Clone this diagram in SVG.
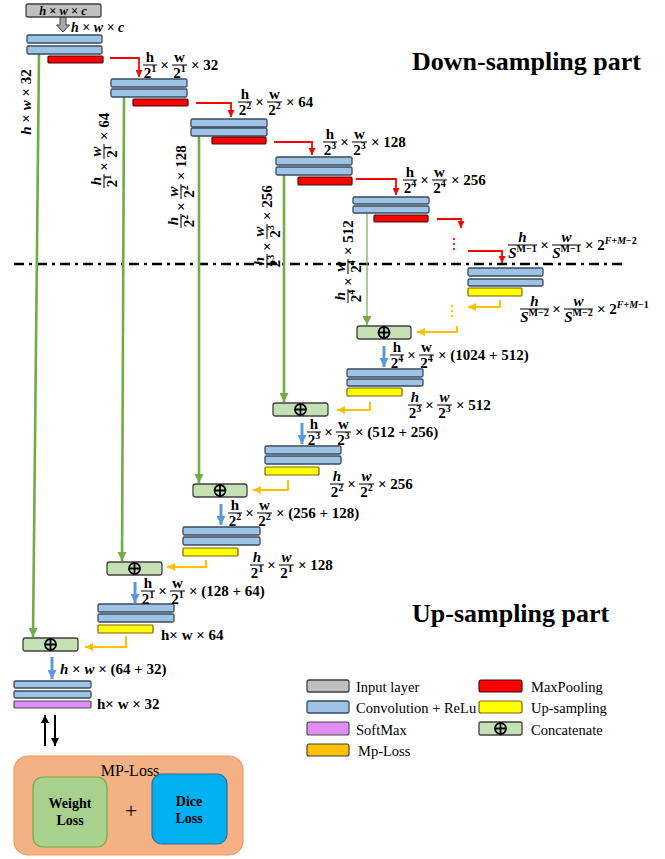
<svg xmlns="http://www.w3.org/2000/svg" width="665" height="859" viewBox="0 0 665 859">
<defs>
<style>
.cv{fill:#9DC3E6;stroke:#3B4A5C;stroke-width:1.3}
.mp{fill:#FF0000;stroke:#3a1010;stroke-width:1.2}
.up{fill:#FFFF00;stroke:#7F5F10;stroke-width:1.2}
.sm{fill:#E08EF5;stroke:#4a4a4a;stroke-width:1.2}
.cc{fill:#C5E0B4;stroke:#404040;stroke-width:1.3}
.ip{fill:#BFBFBF;stroke:#404040;stroke-width:1.3}
.ml{fill:#FFC000;stroke:#404040;stroke-width:1.2}
.g{fill:none;stroke:#70AD47;stroke-width:2.6}
.r{fill:none;stroke:#FF0000;stroke-width:1.8}
.o{fill:none;stroke:#FFC000;stroke-width:2}
.b{fill:none;stroke:#5B9BD5;stroke-width:3}
.k{fill:none;stroke:#000;stroke-width:2}
.t{font-family:"Liberation Serif","Times New Roman",serif;font-weight:bold;font-size:15px;fill:#000}
.c{text-anchor:middle}
.i{font-style:italic}
.s{font-size:10px}
.fl{stroke:#000;stroke-width:1}
.lg{font-family:"Liberation Serif","Times New Roman",serif;font-size:14.5px;fill:#000}
.ti{font-family:"Liberation Serif","Times New Roman",serif;font-weight:bold;font-size:26px;fill:#000}
</style>
<marker id="ar" viewBox="0 0 10 10" refX="10" refY="5" markerUnits="userSpaceOnUse" markerWidth="7" markerHeight="7" orient="auto"><path d="M0,0L10,5L0,10z" fill="#FF0000"/></marker>
<marker id="ao" viewBox="0 0 10 10" refX="10" refY="5" markerUnits="userSpaceOnUse" markerWidth="8" markerHeight="8" orient="auto"><path d="M0,0L10,5L0,10z" fill="#FFC000"/></marker>
<marker id="ag" viewBox="0 0 10 10" refX="10" refY="5" markerUnits="userSpaceOnUse" markerWidth="9" markerHeight="9" orient="auto"><path d="M0,0L10,5L0,10z" fill="#70AD47"/></marker>
<marker id="ab" viewBox="0 0 10 10" refX="10" refY="5" markerUnits="userSpaceOnUse" markerWidth="9" markerHeight="9" orient="auto"><path d="M0,0L10,5L0,10z" fill="#5B9BD5"/></marker>
<marker id="ak" viewBox="0 0 10 10" refX="10" refY="5" markerUnits="userSpaceOnUse" markerWidth="8" markerHeight="8" orient="auto"><path d="M0,0L10,5L0,10z" fill="#000"/></marker>
<g id="oplus"><circle r="5.5" fill="none" stroke="#000" stroke-width="1.8"/><path d="M-5.5,0H5.5M0,-5.5V5.5" stroke="#000" stroke-width="1.8"/></g>
</defs>
<rect width="665" height="859" fill="#fff"/>

<text class="ti" x="412" y="70">Down-sampling part</text>
<text class="ti" x="412" y="622">Up-sampling part</text>

<g id="connectors">
<path d="M14,264H627" stroke="#000" stroke-width="2.5" stroke-dasharray="10,5,3,5" fill="none"/>
<path class="g" d="M39,54L33,637" marker-end="url(#ag)"/>
<path class="g" d="M124,97L122,561" marker-end="url(#ag)"/>
<path class="g" d="M199,135L199,483" marker-end="url(#ag)"/>
<path class="g" d="M284,175L284,402" marker-end="url(#ag)"/>
<path class="g" d="M367,213L367,325" style="stroke-width:1.2" marker-end="url(#ag)"/>
<path class="r" d="M110,58H139V77" marker-end="url(#ar)"/>
<path class="r" d="M196,103H231V117" marker-end="url(#ar)"/>
<path class="r" d="M274,142H312V155" marker-end="url(#ar)"/>
<path class="r" d="M356,179H396V195" marker-end="url(#ar)"/>
<path class="r" d="M437,219H461V228" marker-end="url(#ar)"/>
<path class="r" d="M454,238V252" stroke-dasharray="2,3"/>
<path class="r" d="M468,251H502V263" marker-end="url(#ar)"/>
<path class="o" d="M500,300V307H468" marker-end="url(#ao)"/>
<path class="o" d="M452,305V318" stroke-dasharray="2,3"/>
<path class="o" d="M457,326V332H417" marker-end="url(#ao)"/>
<path class="o" d="M370,402V410H337" marker-end="url(#ao)"/>
<path class="o" d="M288,480V490H253" marker-end="url(#ao)"/>
<path class="o" d="M206,560V567H167" marker-end="url(#ao)"/>
<path class="o" d="M126,636V647H85" marker-end="url(#ao)"/>
<path class="b" d="M384,346V367" marker-end="url(#ab)"/>
<path class="b" d="M302,423V444" marker-end="url(#ab)"/>
<path class="b" d="M221,504V525" marker-end="url(#ab)"/>
<path class="b" d="M135,582V603" marker-end="url(#ab)"/>
<path class="b" d="M52,657V679" marker-end="url(#ab)"/>
<path class="k" d="M45,746V715" marker-end="url(#ak)"/>
<path class="k" d="M55,715V746" marker-end="url(#ak)"/>
<polygon points="60,17 66,17 66,25 69.5,25 63,32 56.5,25 60,25" fill="#A6A6A6" stroke="#404040" stroke-width="1"/>
</g>

<g id="input">
<rect class="ip" x="26" y="4" width="75" height="13" rx="2"/>
<text class="t c" x="63" y="15" style="font-size:12.5px"><tspan class="i">h</tspan> × <tspan class="i">w</tspan> × <tspan class="i">c</tspan></text>
<text class="t" x="71" y="32" style="font-size:14px"><tspan class="i">h</tspan> × <tspan class="i">w</tspan> × <tspan class="i">c</tspan></text>
</g>

<g id="down1"><rect class="cv" x="27" y="35" width="75" height="8" rx="1.5"/><rect class="cv" x="27" y="46" width="75" height="8" rx="1.5"/><rect class="mp" x="48" y="56" width="55" height="7" rx="1"/></g>
<g id="down2"><rect class="cv" x="111" y="79" width="76" height="8" rx="1.5"/><rect class="cv" x="111" y="89" width="76" height="8" rx="1.5"/><rect class="mp" x="133" y="99" width="55" height="7" rx="1"/></g>
<g id="down3"><rect class="cv" x="191" y="119" width="76" height="8" rx="1.5"/><rect class="cv" x="191" y="128" width="76" height="8" rx="1.5"/><rect class="mp" x="212" y="137" width="54" height="7" rx="1"/></g>
<g id="down4"><rect class="cv" x="276" y="157" width="76" height="8" rx="1.5"/><rect class="cv" x="276" y="167" width="76" height="8" rx="1.5"/><rect class="mp" x="298" y="177" width="54" height="8" rx="1"/></g>
<g id="down5"><rect class="cv" x="353" y="197" width="76" height="7" rx="1.5"/><rect class="cv" x="353" y="206" width="76" height="7" rx="1.5"/><rect class="mp" x="374" y="215" width="54" height="7" rx="1"/></g>
<g id="bottom"><rect class="cv" x="468" y="268" width="75" height="8" rx="1.5"/><rect class="cv" x="468" y="279" width="75" height="7" rx="1.5"/><rect class="up" x="468" y="288" width="54" height="8" rx="1"/></g>

<g id="concat1"><rect class="cc" x="357" y="326" width="54" height="13" rx="2.5"/><use href="#oplus" transform="translate(384,332.5)"/></g>
<g id="up1"><rect class="cv" x="347" y="369" width="76" height="8" rx="1.5"/><rect class="cv" x="347" y="379" width="76" height="7" rx="1.5"/><rect class="up" x="347" y="388" width="55" height="8" rx="1"/></g>
<g id="concat2"><rect class="cc" x="273" y="403" width="55" height="13" rx="2.5"/><use href="#oplus" transform="translate(300.5,409.5)"/></g>
<g id="up2"><rect class="cv" x="265" y="446" width="76" height="8" rx="1.5"/><rect class="cv" x="265" y="456" width="76" height="8" rx="1.5"/><rect class="up" x="265" y="467" width="54" height="8" rx="1"/></g>
<g id="concat3"><rect class="cc" x="193" y="484" width="54" height="13" rx="2.5"/><use href="#oplus" transform="translate(220,490.5)"/></g>
<g id="up3"><rect class="cv" x="183" y="527" width="77" height="8" rx="1.5"/><rect class="cv" x="183" y="537" width="77" height="8" rx="1.5"/><rect class="up" x="183" y="548" width="55" height="8" rx="1"/></g>
<g id="concat4"><rect class="cc" x="107" y="562" width="55" height="13" rx="2.5"/><use href="#oplus" transform="translate(134.5,568.5)"/></g>
<g id="up4"><rect class="cv" x="98" y="604" width="76" height="8" rx="1.5"/><rect class="cv" x="98" y="614" width="76" height="8" rx="1.5"/><rect class="up" x="98" y="625" width="55" height="8" rx="1"/></g>
<g id="concat5"><rect class="cc" x="23" y="638" width="55" height="13" rx="2.5"/><use href="#oplus" transform="translate(50.5,644.5)"/></g>
<g id="out"><rect class="cv" x="14" y="681" width="77" height="7" rx="1.5"/><rect class="cv" x="14" y="691" width="77" height="7" rx="1.5"/><rect class="sm" x="14" y="701" width="77" height="7" rx="1"/></g>

<!-- down labels -->
<g id="lbl-d1" transform="translate(143,65)">
<text class="t c" x="7" y="-3.5">h</text><line class="fl" x1="0" y1="0" x2="14" y2="0"/><text class="t c" x="7" y="12.5">2<tspan class="s" dy="-5.5">1</tspan></text>
<text class="t c" x="21.5" y="5">×</text>
<text class="t c" x="36.5" y="-3.5">w</text><line class="fl" x1="29" y1="0" x2="44" y2="0"/><text class="t c" x="36.5" y="12.5">2<tspan class="s" dy="-5.5">1</tspan></text>
<text class="t" x="48" y="5">× 32</text></g>
<g id="lbl-d2" transform="translate(238,102)">
<text class="t c" x="7" y="-3.5">h</text><line class="fl" x1="0" y1="0" x2="14" y2="0"/><text class="t c" x="7" y="12.5">2<tspan class="s" dy="-5.5">2</tspan></text>
<text class="t c" x="21.5" y="5">×</text>
<text class="t c" x="36.5" y="-3.5">w</text><line class="fl" x1="29" y1="0" x2="44" y2="0"/><text class="t c" x="36.5" y="12.5">2<tspan class="s" dy="-5.5">2</tspan></text>
<text class="t" x="48" y="5">× 64</text></g>
<g id="lbl-d3" transform="translate(323,142)">
<text class="t c" x="7" y="-3.5">h</text><line class="fl" x1="0" y1="0" x2="14" y2="0"/><text class="t c" x="7" y="12.5">2<tspan class="s" dy="-5.5">3</tspan></text>
<text class="t c" x="21.5" y="5">×</text>
<text class="t c" x="36.5" y="-3.5">w</text><line class="fl" x1="29" y1="0" x2="44" y2="0"/><text class="t c" x="36.5" y="12.5">2<tspan class="s" dy="-5.5">3</tspan></text>
<text class="t" x="48" y="5">× 128</text></g>
<g id="lbl-d4" transform="translate(403,180)">
<text class="t c" x="7" y="-3.5">h</text><line class="fl" x1="0" y1="0" x2="14" y2="0"/><text class="t c" x="7" y="12.5">2<tspan class="s" dy="-5.5">4</tspan></text>
<text class="t c" x="21.5" y="5">×</text>
<text class="t c" x="36.5" y="-3.5">w</text><line class="fl" x1="29" y1="0" x2="44" y2="0"/><text class="t c" x="36.5" y="12.5">2<tspan class="s" dy="-5.5">4</tspan></text>
<text class="t" x="48" y="5">× 256</text></g>
<g id="lbl-sm1" transform="translate(508,245)">
<text class="t c i" x="14.5" y="-3.5">h</text><line class="fl" x1="0" y1="0" x2="29" y2="0"/><text class="t c" x="14.5" y="12.5"><tspan class="i">S</tspan><tspan class="s" dy="-5.5">M−1</tspan></text>
<text class="t c" x="36.5" y="5">×</text>
<text class="t c i" x="58.5" y="-3.5">w</text><line class="fl" x1="44" y1="0" x2="73" y2="0"/><text class="t c" x="58.5" y="12.5"><tspan class="i">S</tspan><tspan class="s" dy="-5.5">M−1</tspan></text>
<text class="t" x="77" y="5">× 2<tspan class="s" dy="-6.5"><tspan class="i">F</tspan>+<tspan class="i">M</tspan>−2</tspan></text></g>
<g id="lbl-sm2" transform="translate(520,309)">
<text class="t c i" x="14.5" y="-3.5">h</text><line class="fl" x1="0" y1="0" x2="29" y2="0"/><text class="t c" x="14.5" y="12.5"><tspan class="i">S</tspan><tspan class="s" dy="-5.5">M−2</tspan></text>
<text class="t c" x="36.5" y="5">×</text>
<text class="t c i" x="58.5" y="-3.5">w</text><line class="fl" x1="44" y1="0" x2="73" y2="0"/><text class="t c" x="58.5" y="12.5"><tspan class="i">S</tspan><tspan class="s" dy="-5.5">M−2</tspan></text>
<text class="t" x="77" y="5">× 2<tspan class="s" dy="-6.5"><tspan class="i">F</tspan>+<tspan class="i">M</tspan>−1</tspan></text></g>

<!-- vertical skip labels -->
<text class="t c" transform="translate(31,102) rotate(-90)"><tspan class="i">h</tspan> × <tspan class="i">w</tspan> × 32</text>
<g id="lbl-v2" transform="translate(104,188) rotate(-90)">
<text class="t c i" x="7" y="-3.5">h</text><line class="fl" x1="0" y1="0" x2="14" y2="0"/><text class="t c" x="7" y="12.5">2<tspan class="s" dy="-5.5">1</tspan></text>
<text class="t c" x="21.5" y="5">×</text>
<text class="t c i" x="36.5" y="-3.5">w</text><line class="fl" x1="29" y1="0" x2="44" y2="0"/><text class="t c" x="36.5" y="12.5">2<tspan class="s" dy="-5.5">1</tspan></text>
<text class="t" x="48" y="5">× 64</text></g>
<g id="lbl-v3" transform="translate(181,228) rotate(-90)">
<text class="t c i" x="7" y="-3.5">h</text><line class="fl" x1="0" y1="0" x2="14" y2="0"/><text class="t c" x="7" y="12.5">2<tspan class="s" dy="-5.5">2</tspan></text>
<text class="t c" x="21.5" y="5">×</text>
<text class="t c i" x="36.5" y="-3.5">w</text><line class="fl" x1="29" y1="0" x2="44" y2="0"/><text class="t c" x="36.5" y="12.5">2<tspan class="s" dy="-5.5">2</tspan></text>
<text class="t" x="48" y="5">× 128</text></g>
<g id="lbl-v4" transform="translate(267,268) rotate(-90)">
<text class="t c i" x="7" y="-3.5">h</text><line class="fl" x1="0" y1="0" x2="14" y2="0"/><text class="t c" x="7" y="12.5">2<tspan class="s" dy="-5.5">3</tspan></text>
<text class="t c" x="21.5" y="5">×</text>
<text class="t c i" x="36.5" y="-3.5">w</text><line class="fl" x1="29" y1="0" x2="44" y2="0"/><text class="t c" x="36.5" y="12.5">2<tspan class="s" dy="-5.5">3</tspan></text>
<text class="t" x="48" y="5">× 256</text></g>
<g id="lbl-v5" transform="translate(348,303) rotate(-90)">
<text class="t c i" x="7" y="-3.5">h</text><line class="fl" x1="0" y1="0" x2="14" y2="0"/><text class="t c" x="7" y="12.5">2<tspan class="s" dy="-5.5">4</tspan></text>
<text class="t c" x="21.5" y="5">×</text>
<text class="t c i" x="36.5" y="-3.5">w</text><line class="fl" x1="29" y1="0" x2="44" y2="0"/><text class="t c" x="36.5" y="12.5">2<tspan class="s" dy="-5.5">4</tspan></text>
<text class="t" x="48" y="5">× 512</text></g>

<!-- up labels -->
<g id="lbl-u1" transform="translate(390,355)">
<text class="t c" x="7" y="-3.5">h</text><line class="fl" x1="0" y1="0" x2="14" y2="0"/><text class="t c" x="7" y="12.5">2<tspan class="s" dy="-5.5">4</tspan></text>
<text class="t c" x="21.5" y="5">×</text>
<text class="t c" x="36.5" y="-3.5">w</text><line class="fl" x1="29" y1="0" x2="44" y2="0"/><text class="t c" x="36.5" y="12.5">2<tspan class="s" dy="-5.5">4</tspan></text>
<text class="t" x="48" y="5">× (1024 + 512)</text></g>
<g id="lbl-u1b" transform="translate(408,405)">
<text class="t c i" x="7" y="-3.5">h</text><line class="fl" x1="0" y1="0" x2="14" y2="0"/><text class="t c" x="7" y="12.5">2<tspan class="s" dy="-5.5">3</tspan></text>
<text class="t c" x="21.5" y="5">×</text>
<text class="t c i" x="36.5" y="-3.5">w</text><line class="fl" x1="29" y1="0" x2="44" y2="0"/><text class="t c" x="36.5" y="12.5">2<tspan class="s" dy="-5.5">3</tspan></text>
<text class="t" x="48" y="5">× 512</text></g>
<g id="lbl-u2" transform="translate(307,432)">
<text class="t c" x="7" y="-3.5">h</text><line class="fl" x1="0" y1="0" x2="14" y2="0"/><text class="t c" x="7" y="12.5">2<tspan class="s" dy="-5.5">3</tspan></text>
<text class="t c" x="21.5" y="5">×</text>
<text class="t c" x="36.5" y="-3.5">w</text><line class="fl" x1="29" y1="0" x2="44" y2="0"/><text class="t c" x="36.5" y="12.5">2<tspan class="s" dy="-5.5">3</tspan></text>
<text class="t" x="48" y="5">× (512 + 256)</text></g>
<g id="lbl-u2b" transform="translate(330,484)">
<text class="t c i" x="7" y="-3.5">h</text><line class="fl" x1="0" y1="0" x2="14" y2="0"/><text class="t c" x="7" y="12.5">2<tspan class="s" dy="-5.5">2</tspan></text>
<text class="t c" x="21.5" y="5">×</text>
<text class="t c i" x="36.5" y="-3.5">w</text><line class="fl" x1="29" y1="0" x2="44" y2="0"/><text class="t c" x="36.5" y="12.5">2<tspan class="s" dy="-5.5">2</tspan></text>
<text class="t" x="48" y="5">× 256</text></g>
<g id="lbl-u3" transform="translate(228,513)">
<text class="t c" x="7" y="-3.5">h</text><line class="fl" x1="0" y1="0" x2="14" y2="0"/><text class="t c" x="7" y="12.5">2<tspan class="s" dy="-5.5">2</tspan></text>
<text class="t c" x="21.5" y="5">×</text>
<text class="t c" x="36.5" y="-3.5">w</text><line class="fl" x1="29" y1="0" x2="44" y2="0"/><text class="t c" x="36.5" y="12.5">2<tspan class="s" dy="-5.5">2</tspan></text>
<text class="t" x="48" y="5">× (256 + 128)</text></g>
<g id="lbl-u3b" transform="translate(250,565)">
<text class="t c i" x="7" y="-3.5">h</text><line class="fl" x1="0" y1="0" x2="14" y2="0"/><text class="t c" x="7" y="12.5">2<tspan class="s" dy="-5.5">1</tspan></text>
<text class="t c" x="21.5" y="5">×</text>
<text class="t c i" x="36.5" y="-3.5">w</text><line class="fl" x1="29" y1="0" x2="44" y2="0"/><text class="t c" x="36.5" y="12.5">2<tspan class="s" dy="-5.5">1</tspan></text>
<text class="t" x="48" y="5">× 128</text></g>
<g id="lbl-u4" transform="translate(141,591)">
<text class="t c" x="7" y="-3.5">h</text><line class="fl" x1="0" y1="0" x2="14" y2="0"/><text class="t c" x="7" y="12.5">2<tspan class="s" dy="-5.5">1</tspan></text>
<text class="t c" x="21.5" y="5">×</text>
<text class="t c" x="36.5" y="-3.5">w</text><line class="fl" x1="29" y1="0" x2="44" y2="0"/><text class="t c" x="36.5" y="12.5">2<tspan class="s" dy="-5.5">1</tspan></text>
<text class="t" x="48" y="5">× (128 + 64)</text></g>
<text class="t" x="161" y="640">h× w × 64</text>
<text class="t" x="60" y="674"><tspan class="i">h</tspan> × <tspan class="i">w</tspan> × (64 + 32)</text>
<text class="t" x="97" y="709">h× w × 32</text>

<!-- loss -->
<g id="mploss">
<rect x="14" y="756" width="229" height="99" rx="14" fill="#F4B183" stroke="#EE9A62" stroke-width="1.2"/>
<text class="lg c" x="130" y="776" style="font-size:16px">MP-Loss</text>
<text class="lg c" x="131" y="818" style="font-size:22px">+</text>
</g>
<g id="weightloss">
<rect x="33" y="777" width="74" height="70" rx="10" fill="#A9D18E" stroke="#70AD47" stroke-width="1.2"/>
<text class="t c" x="70" y="808" style="font-size:14px">Weight</text><text class="t c" x="70" y="825" style="font-size:14px">Loss</text>
</g>
<g id="diceloss">
<rect x="152" y="774" width="75" height="70" rx="10" fill="#00B0F0" stroke="#2E6DA4" stroke-width="1.2"/>
<text class="t c" x="189" y="806" style="font-size:14px">Dice</text><text class="t c" x="189" y="823" style="font-size:14px">Loss</text>
</g>

<!-- legend -->
<g id="legend">
<rect class="ip" x="307" y="680" width="42" height="12" rx="2"/><text class="lg" x="356" y="692">Input layer</text>
<rect class="cv" x="307" y="701" width="42" height="12" rx="2"/><text class="lg" x="356" y="713">Convolution + ReLu</text>
<rect class="sm" x="307" y="722" width="42" height="13" rx="2"/><text class="lg" x="356" y="735">SoftMax</text>
<rect class="ml" x="307" y="744" width="42" height="12" rx="2"/><text class="lg" x="358" y="756">Mp-Loss</text>
<rect class="mp" x="479" y="680" width="43" height="12" rx="2"/><text class="lg" x="531" y="692">MaxPooling</text>
<rect class="up" x="479" y="701" width="43" height="12" rx="2"/><text class="lg" x="531" y="713">Up-sampling</text>
<rect class="cc" x="479" y="722" width="43" height="13" rx="2"/><use href="#oplus" transform="translate(500.5,728.5)"/><text class="lg" x="531" y="735">Concatenate</text>
</g>
</svg>
